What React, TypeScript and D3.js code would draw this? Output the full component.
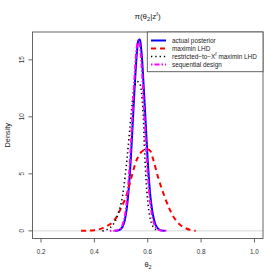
import React from "react";
import * as d3 from "d3";

// ---- data ----
const blueX = [0.477, 0.48, 0.49, 0.5, 0.51, 0.52, 0.53, 0.54, 0.55, 0.56, 0.565, 0.57, 0.575, 0.58, 0.59, 0.6, 0.61, 0.62, 0.63, 0.64, 0.65, 0.664];
const blueY = [0.0, 0.01, 0.04, 0.17, 0.61, 1.73, 4.05, 7.77, 12.23, 15.81, 16.69, 16.77, 16.04, 14.61, 10.44, 6.13, 3.0, 1.35, 0.5, 0.16, 0.04, 0.0];

const redX = [0.35, 0.37, 0.4, 0.42, 0.44, 0.46, 0.48, 0.5, 0.52, 0.54, 0.56, 0.58, 0.6, 0.61, 0.62, 0.64, 0.66, 0.68, 0.7, 0.72, 0.74, 0.76, 0.78];
const redY = [0.0, 0.02, 0.06, 0.15, 0.35, 0.6, 1.1, 2.0, 3.1, 4.8, 6.3, 7.0, 7.15, 7.0, 6.3, 4.6, 3.2, 2.0, 1.1, 0.55, 0.25, 0.08, 0.0];

const dotX = [0.43, 0.44, 0.45, 0.46, 0.47, 0.48, 0.49, 0.5, 0.51, 0.52, 0.53, 0.54, 0.55, 0.56, 0.57, 0.58, 0.59, 0.6, 0.61, 0.62, 0.63, 0.64];
const dotY = [0.0, 0.05, 0.15, 0.3, 0.55, 0.95, 1.6, 2.4, 3.8, 5.8, 8.2, 10.8, 12.6, 13.1, 12.9, 11.3, 6.0, 2.6, 1.0, 0.35, 0.1, 0.0];

const magX = [0.458, 0.47, 0.48, 0.49, 0.5, 0.51, 0.52, 0.53, 0.54, 0.55, 0.56, 0.565, 0.57, 0.575, 0.58, 0.59, 0.6, 0.61, 0.62, 0.63, 0.64, 0.65, 0.67];
const magY = [0.0, 0.01, 0.03, 0.08, 0.28, 0.86, 2.26, 4.98, 9.01, 13.37, 16.29, 16.7, 16.29, 15.13, 13.37, 9.01, 4.98, 2.3, 0.9, 0.32, 0.1, 0.03, 0.0];

const xTicks = [0.2, 0.4, 0.6, 0.8, 1.0];
const yTicks = [0, 5, 10, 15];
const legendLabels = ["actual posterior", "maximin LHD", "restricted\u2212to\u2212X", "sequential design"];

const FONT = "'Liberation Sans', Arial, Helvetica, sans-serif";

export default function App() {
  const W = 280;
  const H = 280;
  const left = 32.5, right = 263, top = 32, bottom = 238.5;

  const x = d3.scaleLinear().domain([0.168, 1.032]).range([left, right]);
  const yMax = d3.max([...blueY, ...redY, ...dotY, ...magY]) as number;
  const y = d3.scaleLinear().domain([-0.04 * yMax, 1.04 * yMax]).range([bottom, top]);

  const line = d3
    .line<[number, number]>()
    .x((d) => x(d[0]))
    .y((d) => y(d[1]))
    .curve(d3.curveCatmullRom.alpha(0.5));

  const zip = (a: number[], b: number[]) => a.map((v, i) => [v, b[i]] as [number, number]);

  const series = [
    { d: zip(blueX, blueY), color: "#0000ff", dash: "none", w: 2 },
    { d: zip(redX, redY), color: "#ff0000", dash: "5,4", w: 2 },
    { d: zip(dotX, dotY), color: "#000000", dash: "1.3,3", w: 1.6 },
    { d: zip(magX, magY), color: "#ff00ff", dash: "1.5,2,5,2", w: 2 },
  ];

  const legL = 147.3, legT = 32, legR = right, legB = 71.7;
  const rowY = [40.5, 48.5, 56.5, 64.5];

  return (
    <svg width={W} height={H} style={{ position: "absolute", left: 0, top: 0, background: "#fff" }}>
      <rect x={0} y={0} width={W} height={H} fill="#fff" />
      {/* zero line */}
      <line x1={left} x2={right} y1={y(0)} y2={y(0)} stroke="#cccccc" strokeWidth={0.8} />
      {/* curves */}
      {series.map((s, i) => (
        <path key={i} d={line(s.d) || ""} fill="none" stroke={s.color} strokeWidth={s.w}
          strokeDasharray={s.dash} strokeLinecap="butt" />
      ))}
      {/* box */}
      <rect x={left} y={top} width={right - left} height={bottom - top} fill="none" stroke="#555" strokeWidth={0.9} />
      {/* x axis ticks */}
      {xTicks.map((t) => (
        <g key={t}>
          <line x1={x(t)} x2={x(t)} y1={bottom} y2={bottom + 4} stroke="#555" strokeWidth={0.9} />
          <text x={x(t)} y={253.5} fontSize={6.3} fontFamily={FONT} textAnchor="middle" fill="#333">
            {t.toFixed(1)}
          </text>
        </g>
      ))}
      {/* y axis ticks */}
      {yTicks.map((t) => (
        <g key={t}>
          <line x1={left - 4} x2={left} y1={y(t)} y2={y(t)} stroke="#555" strokeWidth={0.9} />
          <text transform={`translate(23.5,${y(t)}) rotate(-90)`} fontSize={6.3} fontFamily={FONT}
            textAnchor="middle" fill="#333">
            {t}
          </text>
        </g>
      ))}
      {/* axis labels */}
      <text x={148} y={267} fontSize={7.5} fontFamily={FONT} textAnchor="middle" fill="#222">
        θ<tspan fontSize={5.5} dy={2}>2</tspan>
      </text>
      <text transform={`translate(9.5,${(top + bottom) / 2}) rotate(-90)`} fontSize={7.3} fontFamily={FONT}
        textAnchor="middle" fill="#222">
        Density
      </text>
      {/* title */}
      <text x={147.5} y={19} fontSize={8} fontFamily={FONT} textAnchor="middle" fill="#222">
        π(θ<tspan fontSize={5.8} dy={2}>2</tspan><tspan dy={-2}>|z</tspan>
        <tspan fontSize={5.8} dy={-3.5}>f</tspan><tspan dy={3.5}>)</tspan>
      </text>
      {/* legend */}
      <rect x={legL} y={legT} width={legR - legL} height={legB - legT} fill="#fff" stroke="#555" strokeWidth={0.9} />
      {series.map((s, i) => (
        <g key={i}>
          <line x1={151} x2={166} y1={rowY[i]} y2={rowY[i]} stroke={s.color} strokeWidth={s.w}
            strokeDasharray={s.dash} />
          <text x={172} y={rowY[i] + 2.2} fontSize={6.4} fontFamily={FONT} fill="#222">
            {legendLabels[i]}
            {i === 2 ? (
              <>
                <tspan fontSize={4.6} dy={-2.8}>f</tspan>
                <tspan dy={2.8}> maximin LHD</tspan>
              </>
            ) : null}
          </text>
        </g>
      ))}
    </svg>
  );
}
